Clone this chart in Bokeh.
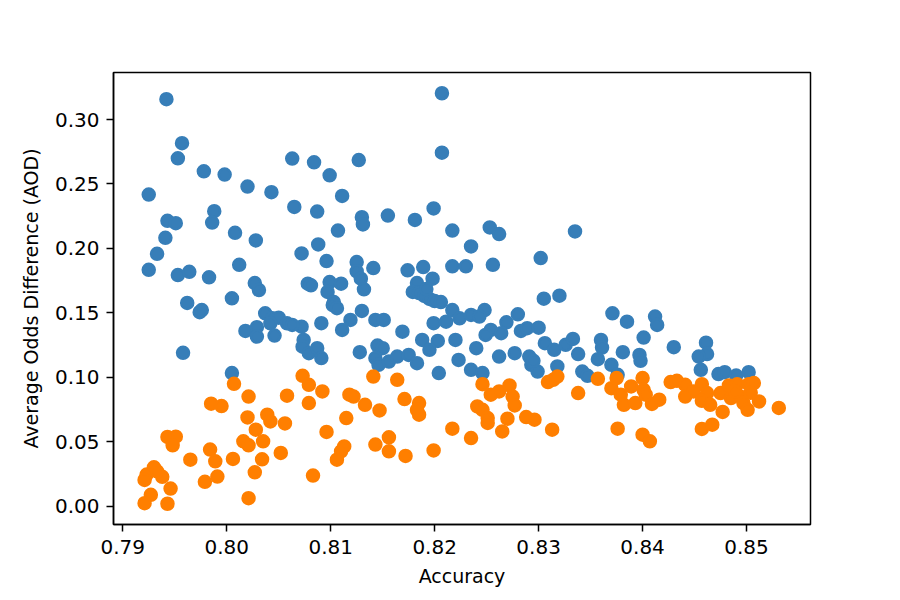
from bokeh.plotting import figure
from bokeh.models import FixedTicker, NumeralTickFormatter, Range1d
from bokeh.embed import file_html
from bokeh.resources import INLINE

# ---- data ----
blue_acc = [
    0.7942, 0.7957, 0.7953, 0.7978, 0.7998, 0.8020, 0.8043, 0.8063, 0.7925, 0.7988,
    0.7986, 0.7943, 0.7951, 0.8008, 0.8028, 0.7941, 0.7933, 0.7925, 0.7953, 0.7964,
    0.7983, 0.8012, 0.8027, 0.8031, 0.8005, 0.7962, 0.7974, 0.7976, 0.8037, 0.8044,
    0.8050, 0.8058, 0.8042, 0.8018, 0.8029, 0.8029, 0.8046, 0.7958, 0.8005, 0.8207,
    0.8207, 0.8084, 0.8127, 0.8099, 0.8111, 0.8065, 0.8087, 0.8130, 0.8131, 0.8155,
    0.8181, 0.8199, 0.8217, 0.8107, 0.8088, 0.8072, 0.8096, 0.8125, 0.8125, 0.8141,
    0.8129, 0.8132, 0.8174, 0.8189, 0.8198, 0.8217, 0.8183, 0.8078, 0.8081, 0.8099,
    0.8110, 0.8097, 0.8103, 0.8179, 0.8185, 0.8190, 0.8195, 0.8200, 0.8206, 0.8192,
    0.8102, 0.8106, 0.8130, 0.8119, 0.8143, 0.8151, 0.8111, 0.8091, 0.8072, 0.8063,
    0.8074, 0.8073, 0.8079, 0.8087, 0.8091, 0.8128, 0.8145, 0.8150, 0.8143, 0.8146,
    0.8156, 0.8164, 0.8175, 0.8183, 0.8169, 0.8188, 0.8203, 0.8195, 0.8204, 0.8199,
    0.8211, 0.8217, 0.8220, 0.8223, 0.8253, 0.8262, 0.8235, 0.8335, 0.8302, 0.8256,
    0.8230, 0.8305, 0.8320, 0.8371, 0.8385, 0.8224, 0.8235, 0.8248, 0.8243, 0.8280,
    0.8269, 0.8254, 0.8249, 0.8264, 0.8283, 0.8289, 0.8300, 0.8240, 0.8235, 0.8246,
    0.8262, 0.8277, 0.8291, 0.8293, 0.8299, 0.8295, 0.8306, 0.8315, 0.8318, 0.8326,
    0.8333, 0.8338, 0.8342, 0.8347, 0.8360, 0.8361, 0.8357, 0.8370, 0.8381, 0.8376,
    0.8412, 0.8414, 0.8401, 0.8397, 0.8398, 0.8430, 0.8461, 0.8462, 0.8454, 0.8456,
    0.8473, 0.8479, 0.8490, 0.8502,
]
blue_aod = [
    0.3158, 0.2817, 0.2699, 0.2598, 0.2573, 0.2480, 0.2436, 0.2697, 0.2418, 0.2289,
    0.2201, 0.2214, 0.2196, 0.2121, 0.2062, 0.2082, 0.1958, 0.1834, 0.1793, 0.1819,
    0.1776, 0.1873, 0.1731, 0.1677, 0.1613, 0.1577, 0.1505, 0.1522, 0.1497, 0.1458,
    0.1463, 0.1419, 0.1419, 0.1360, 0.1389, 0.1316, 0.1324, 0.1190, 0.1033, 0.3204,
    0.2743, 0.2668, 0.2686, 0.2567, 0.2407, 0.2322, 0.2286, 0.2242, 0.2186, 0.2255,
    0.2221, 0.2310, 0.2139, 0.2139, 0.2031, 0.1961, 0.1902, 0.1894, 0.1822, 0.1848,
    0.1765, 0.1683, 0.1830, 0.1855, 0.1765, 0.1861, 0.1731, 0.1726, 0.1714, 0.1739,
    0.1726, 0.1662, 0.1584, 0.1662, 0.1654, 0.1631, 0.1608, 0.1592, 0.1584, 0.1685,
    0.1561, 0.1536, 0.1515, 0.1445, 0.1445, 0.1445, 0.1368, 0.1420, 0.1393, 0.1406,
    0.1290, 0.1238, 0.1187, 0.1226, 0.1149, 0.1195, 0.1246, 0.1226, 0.1149, 0.1097,
    0.1122, 0.1161, 0.1174, 0.1110, 0.1354, 0.1290, 0.1282, 0.1213, 0.1033, 0.1420,
    0.1432, 0.1522, 0.1290, 0.1135, 0.2163, 0.2111, 0.2015, 0.2132, 0.1925, 0.1873,
    0.1861, 0.1610, 0.1633, 0.1497, 0.1432, 0.1458, 0.1484, 0.1522, 0.1471, 0.1489,
    0.1427, 0.1368, 0.1329, 0.1342, 0.1360, 0.1381, 0.1385, 0.1226, 0.1058, 0.1033,
    0.1161, 0.1187, 0.1161, 0.1097, 0.1045, 0.1128, 0.1265, 0.1213, 0.1084, 0.1252,
    0.1298, 0.1180, 0.1045, 0.1012, 0.1290, 0.1231, 0.1141, 0.1097, 0.1195, 0.1019,
    0.1471, 0.1406, 0.1308, 0.1174, 0.1128, 0.1234, 0.1269, 0.1180, 0.1161, 0.1058,
    0.1025, 0.1040, 0.1014, 0.1040,
]
orange_acc = [
    0.8007, 0.8021, 0.7985, 0.7995, 0.8058, 0.8020, 0.8039, 0.8042, 0.8056, 0.8028,
    0.7943, 0.7951, 0.7948, 0.8016, 0.8021, 0.8035, 0.7984, 0.7965, 0.7989, 0.8006,
    0.8034, 0.8052, 0.8027, 0.7991, 0.7979, 0.7930, 0.7923, 0.7921, 0.7938, 0.7933,
    0.7946, 0.7927, 0.7921, 0.7943, 0.8021, 0.8141, 0.8164, 0.8073, 0.8079, 0.8092,
    0.8079, 0.8118, 0.8122, 0.8133, 0.8147, 0.8171, 0.8185, 0.8185, 0.8183, 0.8115,
    0.8096, 0.8217, 0.8156, 0.8143, 0.8113, 0.8110, 0.8106, 0.8156, 0.8172, 0.8199,
    0.8083, 0.8246, 0.8254, 0.8262, 0.8272, 0.8275, 0.8277, 0.8241, 0.8246, 0.8251,
    0.8251, 0.8270, 0.8265, 0.8235, 0.8288, 0.8296, 0.8313, 0.8309, 0.8314, 0.8318,
    0.8338, 0.8357, 0.8370, 0.8375, 0.8379, 0.8382, 0.8389, 0.8376, 0.8400, 0.8401,
    0.8393, 0.8409, 0.8416, 0.8403, 0.8427, 0.8433, 0.8441, 0.8441, 0.8449, 0.8457,
    0.8462, 0.8457, 0.8465, 0.8477, 0.8475, 0.8483, 0.8491, 0.8502, 0.8507, 0.8485,
    0.8494, 0.8497, 0.8501, 0.8512, 0.8531, 0.8457, 0.8467, 0.8400, 0.8407, 0.8489,
    0.8504,
]
orange_aod = [
    0.0950, 0.0851, 0.0795, 0.0777, 0.0857, 0.0689, 0.0710, 0.0658, 0.0642, 0.0594,
    0.0537, 0.0539, 0.0472, 0.0503, 0.0472, 0.0503, 0.0439, 0.0361, 0.0348, 0.0367,
    0.0364, 0.0413, 0.0263, 0.0230, 0.0189, 0.0302, 0.0245, 0.0204, 0.0228, 0.0271,
    0.0137, 0.0088, 0.0023, 0.0019, 0.0062, 0.1006, 0.0981, 0.1012, 0.0942, 0.0890,
    0.0800, 0.0865, 0.0851, 0.0787, 0.0743, 0.0831, 0.0800, 0.0710, 0.0748, 0.0684,
    0.0576, 0.0601, 0.0534, 0.0478, 0.0464, 0.0426, 0.0361, 0.0426, 0.0390, 0.0433,
    0.0238, 0.0947, 0.0865, 0.0890, 0.0937, 0.0851, 0.0782, 0.0774, 0.0748, 0.0684,
    0.0646, 0.0679, 0.0580, 0.0529, 0.0692, 0.0671, 0.0594, 0.0963, 0.0981, 0.1006,
    0.0878, 0.0988, 0.0916, 0.0994, 0.0865, 0.0787, 0.0929, 0.0601, 0.0994, 0.0903,
    0.0800, 0.0793, 0.0826, 0.0865, 0.0963, 0.0973, 0.0942, 0.0851, 0.0890, 0.0947,
    0.0878, 0.0818, 0.0787, 0.0731, 0.0878, 0.0937, 0.0947, 0.0947, 0.0955, 0.0839,
    0.0851, 0.0800, 0.0748, 0.0813, 0.0762, 0.0599, 0.0632, 0.0555, 0.0503, 0.0888,
    0.0880,
]
x_ticks = [0.79, 0.80, 0.81, 0.82, 0.83, 0.84, 0.85]
y_ticks = [0.00, 0.05, 0.10, 0.15, 0.20, 0.25, 0.30]

BLUE = "#377eb8"
ORANGE = "#ff7f00"
FONT = "DejaVu Sans"

p = figure(
    frame_width=697, frame_height=452,
    min_border_left=113, min_border_right=70, min_border_top=72, min_border_bottom=58,
    output_backend="svg", toolbar_location=None,
    x_range=Range1d(0.78911, 0.85615), y_range=Range1d(-0.0142, 0.3365),
    background_fill_color="white", border_fill_color="white",
)
p.xgrid.visible = False
p.ygrid.visible = False
p.outline_line_color = "black"
p.outline_line_width = 1.5
p.outline_line_alpha = 1.0

p.scatter(blue_acc, blue_aod, marker="circle", size=12, fill_color=BLUE,
          line_color=BLUE, line_width=2.5)
p.scatter(orange_acc, orange_aod, marker="circle", size=12, fill_color=ORANGE,
          line_color=ORANGE, line_width=2.5)

p.xaxis.ticker = FixedTicker(ticks=x_ticks)
p.yaxis.ticker = FixedTicker(ticks=y_ticks)
p.xaxis.formatter = NumeralTickFormatter(format="0.00")
p.yaxis.formatter = NumeralTickFormatter(format="0.00")
p.xaxis.axis_label = "Accuracy"
p.yaxis.axis_label = "Average Odds Difference (AOD)"

for ax in (p.xaxis[0], p.yaxis[0]):
    ax.axis_line_color = "black"
    ax.axis_line_width = 1.5
    ax.major_tick_line_color = "black"
    ax.major_tick_line_width = 1.5
    ax.major_tick_out = 7
    ax.major_tick_in = 0
    ax.minor_tick_line_color = None
    ax.major_label_text_font = FONT
    ax.major_label_text_font_size = "20px"
    ax.major_label_text_color = "black"
    ax.axis_label_text_font = FONT
    ax.axis_label_text_font_size = "19px"
    ax.axis_label_text_font_style = "normal"
    ax.axis_label_text_color = "black"

p.xaxis.major_label_standoff = 8
p.yaxis.major_label_standoff = 7
p.xaxis.axis_label_standoff = 8
p.yaxis.axis_label_standoff = 10

open("out.html", "w").write(file_html(p, INLINE))
